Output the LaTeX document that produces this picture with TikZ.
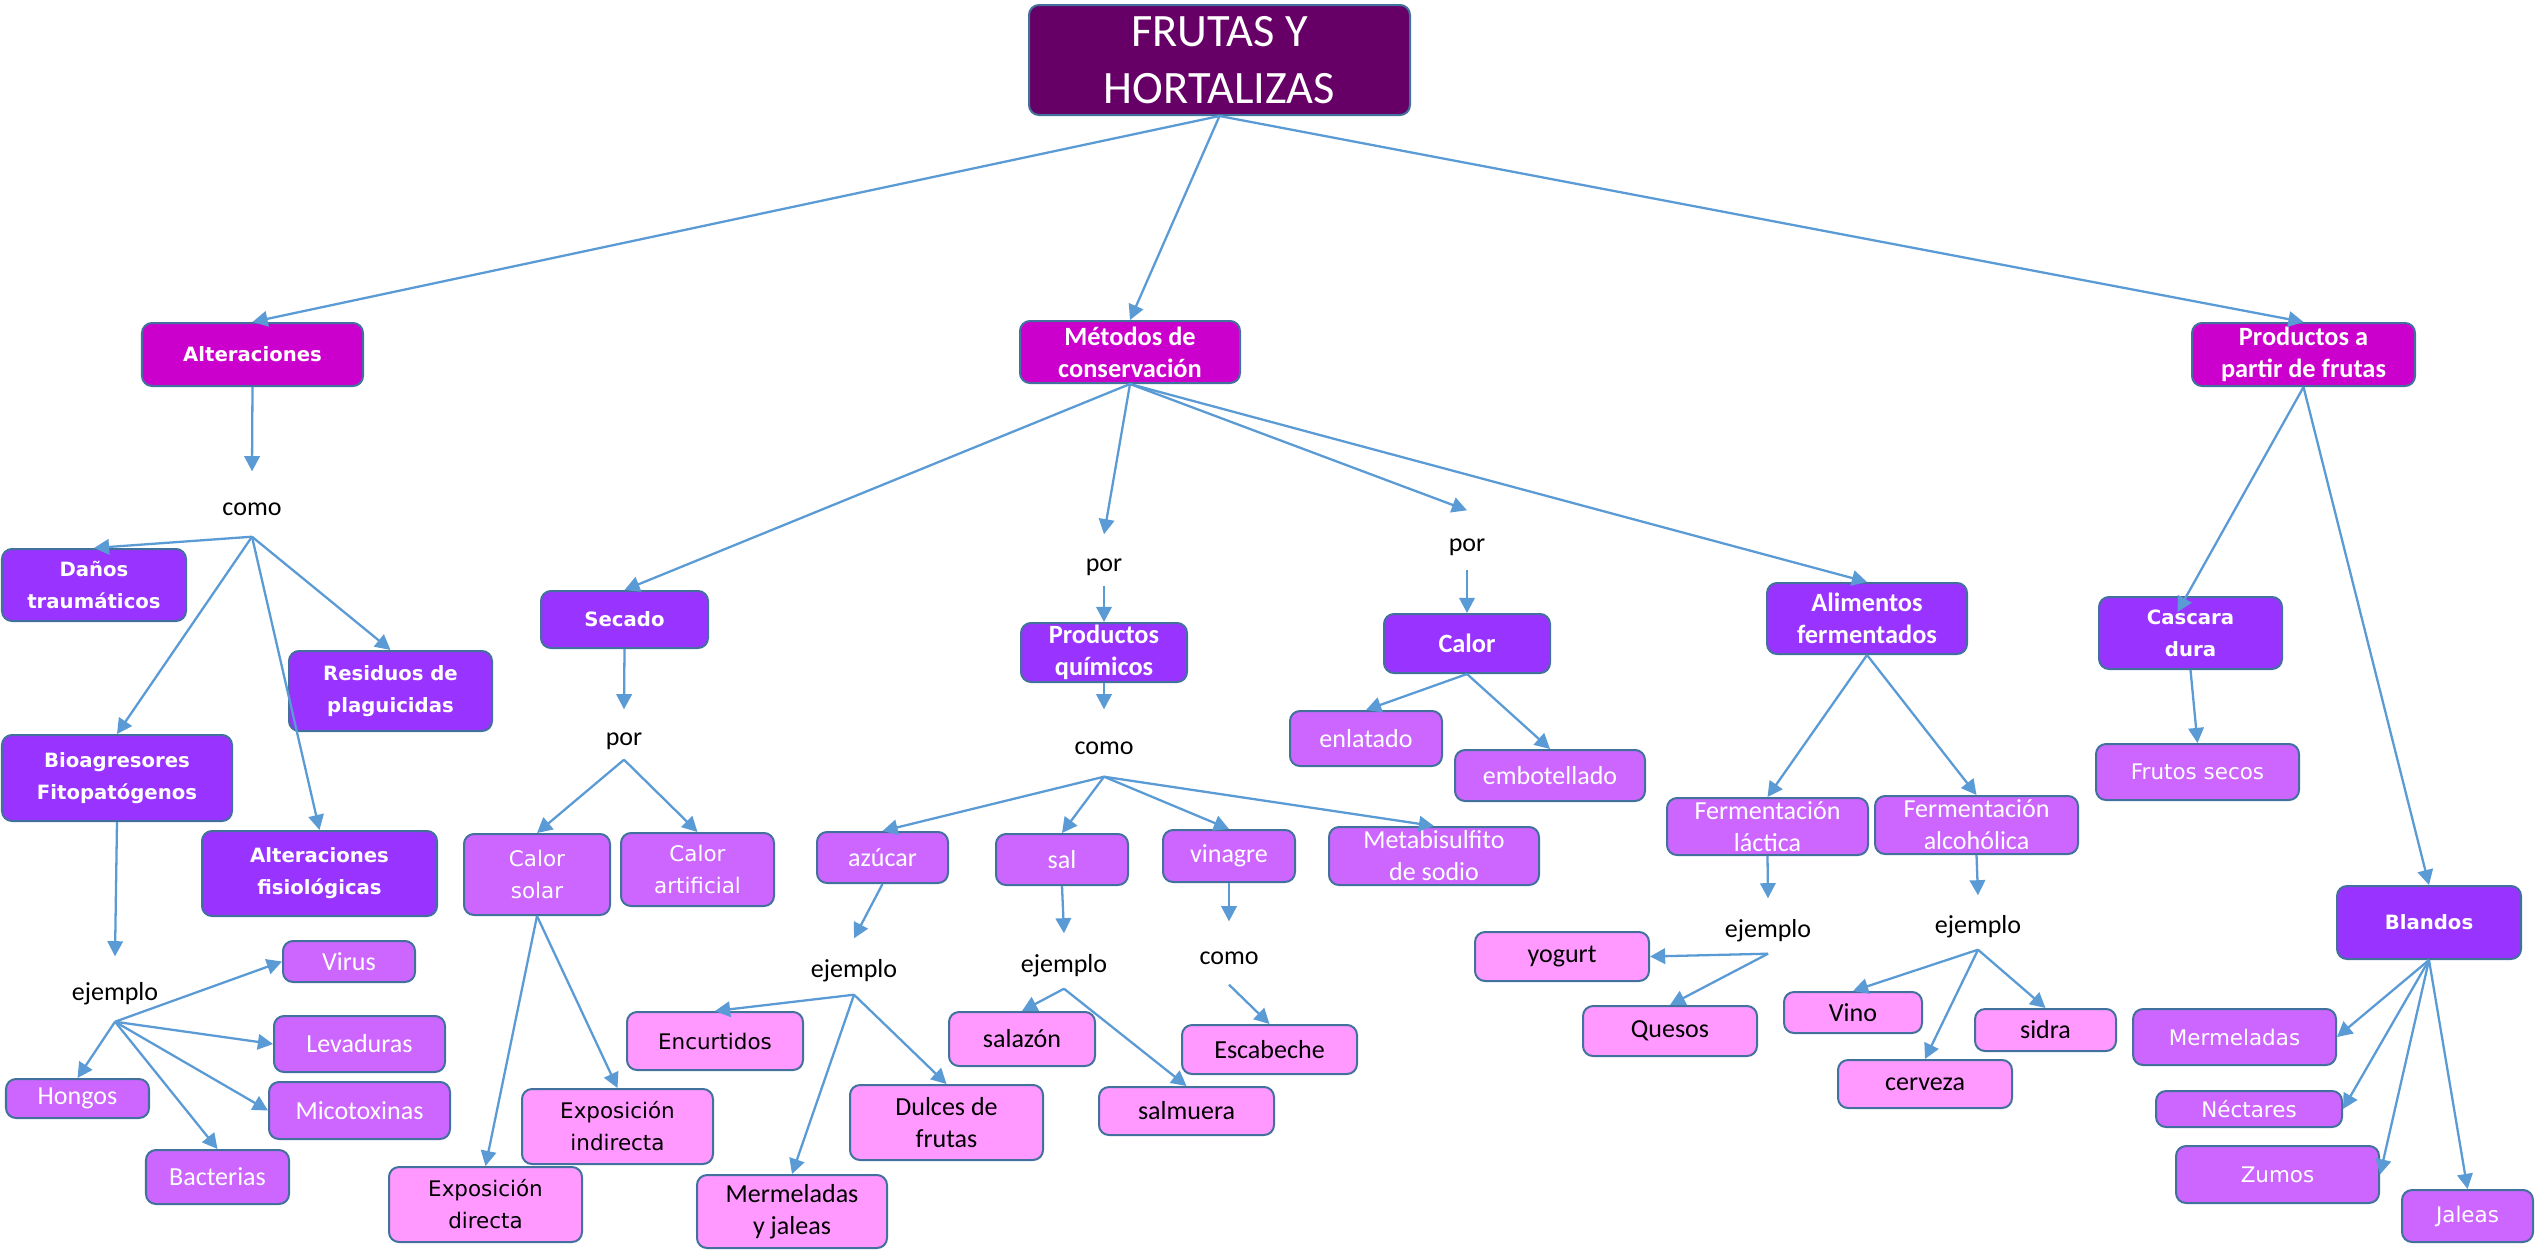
\documentclass[tikz,border=0pt]{standalone}
\usepackage{fontspec}
\usetikzlibrary{arrows.meta,calc}
\newfontfamily\carl{Carlito}
\newfontfamily\dvs{DejaVu Sans}
\definecolor{czero}{HTML}{660066}
\definecolor{cone}{HTML}{CC00CC}
\definecolor{ctwo}{HTML}{9933FF}
\definecolor{cthree}{HTML}{CC66FF}
\definecolor{cfour}{HTML}{FF99FF}
\definecolor{bord}{HTML}{41719C}
\definecolor{arrc}{HTML}{5B9BD5}
\tikzset{
  box/.style={draw=bord, line width=0.57pt, rounded corners=0.1cm, inner sep=0pt, align=center},
  lvzero/.style={box, fill=czero, text=white, font=\carl\fontsize{13.2}{16}\selectfont},
  lvonec/.style={box, fill=cone, text=white, font=\carl\bfseries\fontsize{7.5}{9.1}\selectfont},
  lvoned/.style={box, fill=cone, text=white, font=\dvs\bfseries\fontsize{5.6}{9.1}\selectfont},
  lvtwoc/.style={box, fill=ctwo, text=white, font=\carl\bfseries\fontsize{7.5}{9.1}\selectfont},
  lvtwod/.style={box, fill=ctwo, text=white, font=\dvs\bfseries\fontsize{5.6}{9.1}\selectfont},
  lvthreec/.style={box, fill=cthree, text=white, font=\carl\fontsize{7.4}{9.1}\selectfont},
  lvthreed/.style={box, fill=cthree, text=white, font=\dvs\fontsize{6.1}{9.1}\selectfont},
  lvfourc/.style={box, fill=cfour, text=black, font=\carl\fontsize{7.4}{9.1}\selectfont},
  lvfourd/.style={box, fill=cfour, text=black, font=\dvs\fontsize{6.1}{9.1}\selectfont},
  lbl/.style={inner sep=0pt, text=black, text height=8pt, text depth=1.6pt, font=\carl\fontsize{7.4}{9}\selectfont},
  arr/.style={draw=arrc, line width=0.65pt, -{Triangle[length=4.3pt,width=4.4pt]}}
}
% name, x1, y1, x2, y2, style, text
\newcommand\bx[7]{\node[#6, minimum width={(#4-#2)*0.01cm}, minimum height={(#5-#3)*0.01cm}] (#1) at ({(#2+#4)/2},{(#3+#5)/2}) {#7};}
% name, x, ytop, ybottom, text
\newcommand\lb[5]{\node[lbl, minimum height={(#4-#3)*0.01cm}] (#1) at (#2,{(#3+#4)/2}) {#5};}
\begin{document}
\begin{tikzpicture}[x=0.01cm,y=-0.01cm]
\fill[white] (0,0) rectangle (2539,1251);
\useasboundingbox (0,0) rectangle (2539,1251);

% level 0
\bx{root}{1029}{5}{1410}{115}{lvzero}{FRUTAS Y\\HORTALIZAS}
% level 1
\bx{alt}{142}{323}{363}{386}{lvoned}{Alteraciones}
\bx{met}{1020}{321}{1240}{383}{lvonec}{Métodos de\\conservación}
\bx{prod}{2192}{323}{2415}{386}{lvonec}{Productos a\\partir de frutas}
% level 2
\bx{danos}{2}{549}{186}{621}{lvtwod}{Daños\\traumáticos}
\bx{resid}{289}{651}{492}{731}{lvtwod}{Residuos de\\plaguicidas}
\bx{bio}{2}{735}{232}{821}{lvtwod}{Bioagresores\\Fitopatógenos}
\bx{altf}{202}{831}{437}{916}{lvtwod}{Alteraciones\\fisiológicas}
\bx{sec}{541}{591}{708}{648}{lvtwod}{Secado}
\bx{pq}{1021}{623}{1187}{682}{lvtwoc}{Productos\\químicos}
\bx{cal}{1384}{614}{1550}{673}{lvtwoc}{Calor}
\bx{alim}{1767}{583}{1967}{654}{lvtwoc}{Alimentos\\fermentados}
\bx{casc}{2099}{597}{2282}{669}{lvtwod}{Cascara\\dura}
\bx{bland}{2337}{886}{2521}{959}{lvtwod}{Blandos}
% level 3
\bx{virus}{283}{941}{415}{982}{lvthreec}{Virus}
\bx{lev}{274}{1016}{445}{1072}{lvthreec}{Levaduras}
\bx{mico}{269}{1082}{450}{1139}{lvthreec}{Micotoxinas}
\bx{hongos}{6}{1079}{149}{1118}{lvthreec}{Hongos}
\bx{bact}{146}{1150}{289}{1204}{lvthreec}{Bacterias}
\bx{csolar}{464}{834}{610}{915}{lvthreed}{Calor\\solar}
\bx{cart}{621}{833}{774}{906}{lvthreed}{Calor\\artificial}
\bx{azu}{817}{832}{948}{883}{lvthreec}{azúcar}
\bx{sal}{996}{834}{1128}{885}{lvthreec}{sal}
\bx{vin}{1163}{830}{1295}{882}{lvthreec}{vinagre}
\bx{meta}{1329}{827}{1539}{885}{lvthreec}{Metabisulfito\\de sodio}
\bx{enl}{1290}{711}{1442}{766}{lvthreec}{enlatado}
\bx{emb}{1455}{750}{1645}{801}{lvthreec}{embotellado}
\bx{flac}{1667}{798}{1868}{855}{lvthreec}{Fermentación\\láctica}
\bx{falc}{1875}{796}{2078}{854}{lvthreec}{Fermentación\\alcohólica}
\bx{fsec}{2096}{744}{2299}{800}{lvthreed}{Frutos secos}
\bx{mermr}{2133}{1009}{2336}{1065}{lvthreed}{Mermeladas}
\bx{nect}{2156}{1091}{2342}{1127}{lvthreed}{Néctares}
\bx{zum}{2176}{1146}{2379}{1203}{lvthreed}{Zumos}
\bx{jal}{2402}{1190}{2533}{1242}{lvthreed}{Jaleas}
% level 4
\bx{expd}{389}{1167}{582}{1242}{lvfourd}{Exposición\\directa}
\bx{expi}{522}{1089}{713}{1164}{lvfourd}{Exposición\\indirecta}
\bx{enc}{627}{1012}{803}{1070}{lvfourd}{Encurtidos}
\bx{merm}{697}{1175}{887}{1248}{lvfourc}{Mermeladas\\y jaleas}
\bx{dul}{850}{1085}{1043}{1160}{lvfourc}{Dulces de\\frutas}
\bx{salaz}{949}{1012}{1095}{1066}{lvfourc}{salazón}
\bx{salm}{1099}{1087}{1274}{1135}{lvfourc}{salmuera}
\bx{esc}{1182}{1025}{1357}{1074}{lvfourc}{Escabeche}
\bx{yog}{1475}{932}{1649}{981}{lvfourc}{yogurt}
\bx{ques}{1583}{1006}{1757}{1056}{lvfourc}{Quesos}
\bx{vino}{1784}{992}{1922}{1033}{lvfourc}{Vino}
\bx{sidra}{1975}{1009}{2116}{1051}{lvfourc}{sidra}
\bx{cerv}{1838}{1060}{2012}{1108}{lvfourc}{cerveza}

% labels
\lb{lcomoA}{252}{472}{536}{como}
\lb{lejA}{115}{957}{1021}{ejemplo}
\lb{lporS}{624}{710}{759}{por}
\lb{lporP}{1104}{535}{585}{por}
\lb{lporC}{1467}{511}{569}{por}
\lb{lcomoP}{1104}{710}{776}{como}
\lb{lejAz}{854}{939}{994}{ejemplo}
\lb{lejS}{1064}{934}{988}{ejemplo}
\lb{lcomoV}{1229}{922}{984}{como}
\lb{lejL}{1768}{899}{953}{ejemplo}
\lb{lejAl}{1978}{896}{949}{ejemplo}

% connectors
\draw[arr] (root.south) -- (alt.north);
\draw[arr] (root.south) -- (met.north);
\draw[arr] (root.south) -- (prod.north);

\draw[arr] (alt.south) -- (lcomoA.north);
\draw[arr] (lcomoA.south) -- (danos.north);
\draw[arr] (lcomoA.south) -- (resid.north);
\draw[arr] (lcomoA.south) -- (bio.north);
\draw[arr] (lcomoA.south) -- (altf.north);
\draw[arr] (bio.south) -- (lejA.north);
\draw[arr] (lejA.south) -- (virus.west);
\draw[arr] (lejA.south) -- (lev.west);
\draw[arr] (lejA.south) -- (mico.west);
\draw[arr] (lejA.south) -- (hongos.north);
\draw[arr] (lejA.south) -- (bact.north);

\draw[arr] (met.south) -- (sec.north);
\draw[arr] (met.south) -- (lporP.north);
\draw[arr] (met.south) -- (lporC.north);
\draw[arr] (met.south) -- (alim.north);

\draw[arr] (sec.south) -- (lporS.north);
\draw[arr] (lporS.south) -- (csolar.north);
\draw[arr] (lporS.south) -- (cart.north);
\draw[arr] (csolar.south) -- (expd.north);
\draw[arr] (csolar.south) -- (expi.north);

\draw[arr] (lporP.south) -- (pq.north);
\draw[arr] (pq.south) -- (lcomoP.north);
\draw[arr] (lcomoP.south) -- (azu.north);
\draw[arr] (lcomoP.south) -- (sal.north);
\draw[arr] (lcomoP.south) -- (vin.north);
\draw[arr] (lcomoP.south) -- (meta.north);
\draw[arr] (azu.south) -- (lejAz.north);
\draw[arr] (lejAz.south) -- (enc.north);
\draw[arr] (lejAz.south) -- (merm.north);
\draw[arr] (lejAz.south) -- (dul.north);
\draw[arr] (sal.south) -- (lejS.north);
\draw[arr] (lejS.south) -- (salaz.north);
\draw[arr] (lejS.south) -- (salm.north);
\draw[arr] (vin.south) -- (lcomoV.north);
\draw[arr] (lcomoV.south) -- (esc.north);

\draw[arr] (lporC.south) -- (cal.north);
\draw[arr] (cal.south) -- (enl.north);
\draw[arr] (cal.south) -- (emb.north);

\draw[arr] (alim.south) -- (flac.north);
\draw[arr] (alim.south) -- (falc.north);
\draw[arr] (flac.south) -- (lejL.north);
\draw[arr] (lejL.south) -- (yog.east);
\draw[arr] (lejL.south) -- (ques.north);
\draw[arr] (falc.south) -- (lejAl.north);
\draw[arr] (lejAl.south) -- (vino.north);
\draw[arr] (lejAl.south) -- (sidra.north);
\draw[arr] (lejAl.south) -- (cerv.north);

\draw[arr] (prod.south) -- ([shift={(-13,16)}]casc.north);
\draw[arr] (prod.south) -- (bland.north);
\draw[arr] (casc.south) -- (fsec.north);
\draw[arr] (bland.south) -- (mermr.east);
\draw[arr] (bland.south) -- (nect.east);
\draw[arr] (bland.south) -- (zum.east);
\draw[arr] (bland.south) -- (jal.north);
\end{tikzpicture}
\end{document}
